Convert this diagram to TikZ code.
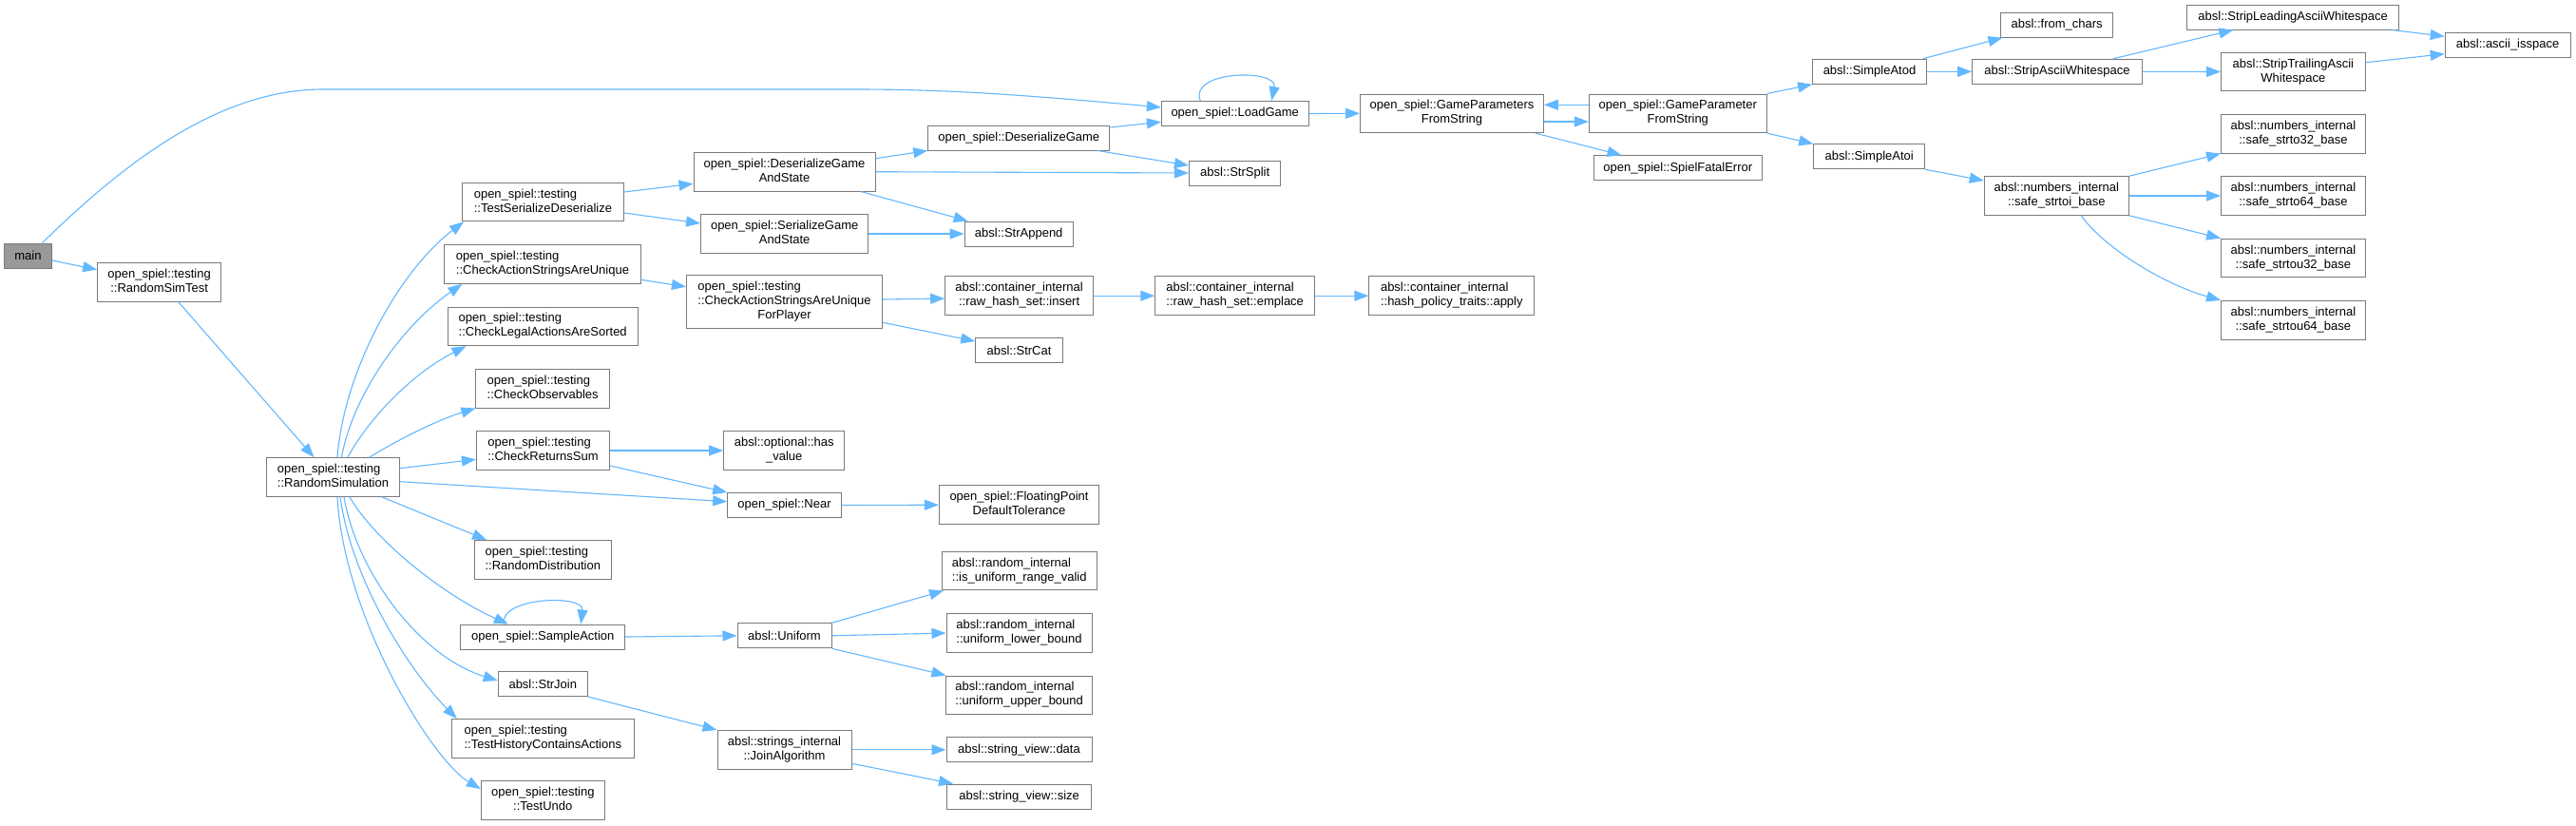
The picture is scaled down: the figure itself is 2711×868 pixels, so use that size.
\documentclass[tikz,border=0pt]{standalone}
\usepackage{fontspec}
\setmainfont{Liberation Sans}
\usetikzlibrary{arrows.meta}
\definecolor{edgec}{HTML}{63B8FF}
\definecolor{nodeb}{HTML}{7A7A7A}
\definecolor{mainf}{HTML}{999999}
\newcommand\lb[2]{\begin{tabular}{@{}l@{}}#1\\\multicolumn{1}{@{}c@{}}{#2}\end{tabular}}
\newcommand\lbt[3]{\begin{tabular}{@{}l@{}}#1\\#2\\\multicolumn{1}{@{}c@{}}{#3}\end{tabular}}
\tikzset{
  box/.style={draw=nodeb, fill=white, line width=1pt, inner sep=0pt, font=\fontsize{13pt}{15pt}\selectfont},
  one/.style={box, minimum height=26pt},
  two/.style={box, minimum height=40.6pt},
  three/.style={box, minimum height=55.7pt},
  mainbox/.style={one, fill=mainf},
  edge/.style={draw=edgec, line width=1.1pt, -{Triangle[length=15pt,width=11pt]}},
}
\begin{document}
\begin{tikzpicture}[x=1pt,y=-1pt]
\fill[white] (0,0) rectangle (2711,868);
\useasboundingbox (0,0) rectangle (2711,868);
% nodes
\node[mainbox, minimum width=50pt] (main) at (29.5,269) {main};
\node[two, minimum width=130pt] (rst) at (167.6,296.7) {\lb{open\_spiel::testing}{::RandomSimTest}};
\node[two, minimum width=139.3pt] (rs) at (350.5,502) {\lb{open\_spiel::testing}{::RandomSimulation}};
\node[two, minimum width=169.6pt] (tsd) at (571.4,212.5) {\lb{open\_spiel::testing}{::TestSerializeDeserialize}};
\node[two, minimum width=206.3pt] (casau) at (571,278) {\lb{open\_spiel::testing}{::CheckActionStringsAreUnique}};
\node[two, minimum width=200.4pt] (claas) at (571.2,343.3) {\lb{open\_spiel::testing}{::CheckLegalActionsAreSorted}};
\node[two, minimum width=140.6pt] (co) at (571.2,408.7) {\lb{open\_spiel::testing}{::CheckObservables}};
\node[two, minimum width=140.2pt] (crs) at (571.5,474) {\lb{open\_spiel::testing}{::CheckReturnsSum}};
\node[two, minimum width=144.2pt] (rd) at (571.3,588.8) {\lb{open\_spiel::testing}{::RandomDistribution}};
\node[one, minimum width=172.8pt] (sa) at (571.3,670) {open\_spiel::SampleAction};
\node[one, minimum width=94.2pt] (sj) at (571.3,719.5) {absl::StrJoin};
\node[two, minimum width=191.5pt] (thca) at (571.3,776.8) {\lb{open\_spiel::testing}{::TestHistoryContainsActions}};
\node[two, minimum width=129.9pt] (tu) at (571.3,842) {\lb{open\_spiel::testing}{::TestUndo}};
\node[two, minimum width=191pt] (dgas) at (825.5,180.7) {\lb{open\_spiel::DeserializeGame}{AndState}};
\node[two, minimum width=176.3pt] (sgas) at (825.7,246) {\lb{open\_spiel::SerializeGame}{AndState}};
\node[three, minimum width=206.2pt] (casaufp) at (825.5,317.8) {\lbt{open\_spiel::testing}{::CheckActionStringsAreUnique}{ForPlayer}};
\node[two, minimum width=127.2pt] (hasv) at (825.3,474) {\lb{absl::optional::has}{\_value}};
\node[one, minimum width=119.6pt] (near) at (825.5,531.5) {open\_spiel::Near};
\node[one, minimum width=99pt] (unif) at (825.5,668.8) {absl::Uniform};
\node[two, minimum width=141pt] (ja) at (825.5,788.8) {\lb{absl::strings\_internal}{::JoinAlgorithm}};
\node[one, minimum width=191.1pt] (dg) at (1072.3,145) {open\_spiel::DeserializeGame};
\node[one, minimum width=114pt] (sapp) at (1072.2,246) {absl::StrAppend};
\node[two, minimum width=155.8pt] (ins) at (1072.6,311.2) {\lb{absl::container\_internal}{::raw\_hash\_set::insert}};
\node[one, minimum width=91.4pt] (scat) at (1072.5,368.7) {absl::StrCat};
\node[two, minimum width=168.1pt] (fpdt) at (1072.5,531.2) {\lb{open\_spiel::FloatingPoint}{DefaultTolerance}};
\node[two, minimum width=162.4pt] (iurv) at (1072.8,600.6) {\lb{absl::random\_internal}{::is\_uniform\_range\_valid}};
\node[two, minimum width=153pt] (ulb) at (1072.5,666) {\lb{absl::random\_internal}{::uniform\_lower\_bound}};
\node[two, minimum width=153.5pt] (uub) at (1072.7,731.3) {\lb{absl::random\_internal}{::uniform\_upper\_bound}};
\node[one, minimum width=153pt] (svd) at (1072.5,788.8) {absl::string\_view::data};
\node[one, minimum width=151.5pt] (svs) at (1072.7,838) {absl::string\_view::size};
\node[one, minimum width=154.6pt] (lg) at (1299.7,119.5) {open\_spiel::LoadGame};
\node[one, minimum width=96.5pt] (ssp) at (1299.7,182) {absl::StrSplit};
\node[two, minimum width=192.9pt] (gpsfs) at (1528,119.3) {\lb{open\_spiel::GameParameters}{FromString}};
\node[two, minimum width=186.8pt] (gpfs) at (1765.8,119.3) {\lb{open\_spiel::GameParameter}{FromString}};
\node[one, minimum width=177.6pt] (sfe) at (1765.8,176.7) {open\_spiel::SpielFatalError};
\node[two, minimum width=167.9pt] (emp) at (1299.7,311.2) {\lb{absl::container\_internal}{::raw\_hash\_set::emplace}};
\node[two, minimum width=174pt] (app) at (1527.8,311.2) {\lb{absl::container\_internal}{::hash\_policy\_traits::apply}};
\node[one, minimum width=119.7pt] (atod) at (1967.5,75.3) {absl::SimpleAtod};
\node[one, minimum width=118.7pt] (fch) at (2164.6,26.2) {absl::from\_chars};
\node[one, minimum width=178.4pt] (saw) at (2164.9,75.3) {absl::StripAsciiWhitespace};
\node[one, minimum width=223.4pt] (slaw) at (2413.1,18) {absl::StripLeadingAsciiWhitespace};
\node[two, minimum width=151.6pt] (staw) at (2413.4,75.5) {\lb{absl::StripTrailingAscii}{Whitespace}};
\node[one, minimum width=131.8pt] (isp) at (2639.1,47.3) {absl::ascii\_isspace};
\node[one, minimum width=116.9pt] (atoi) at (1967.2,164.8) {absl::SimpleAtoi};
\node[two, minimum width=152.1pt] (stoi) at (2164.3,206) {\lb{absl::numbers\_internal}{::safe\_strtoi\_base}};
\node[two, minimum width=151.6pt] (s32) at (2413.4,140.8) {\lb{absl::numbers\_internal}{::safe\_strto32\_base}};
\node[two, minimum width=151.6pt] (s64) at (2413.4,206) {\lb{absl::numbers\_internal}{::safe\_strto64\_base}};
\node[two, minimum width=151.6pt] (su32) at (2413.4,271.5) {\lb{absl::numbers\_internal}{::safe\_strtou32\_base}};
\node[two, minimum width=151.6pt] (su64) at (2413.4,336.7) {\lb{absl::numbers\_internal}{::safe\_strtou64\_base}};
% edges
\draw[edge] ([xshift=15pt]main.north) .. controls (130,172) and (230,94) .. (340,94) -- (900,94) .. controls (1000,94) and (1080,100) .. ([yshift=6.5pt]lg.west);
\draw[edge] ([yshift=-5pt]main.east) -- ([yshift=13pt]rst.west);
\draw[edge] ([xshift=20pt]rst.south) -- ([xshift=-20pt]rs.north);
\draw[edge] ([xshift=4.5pt]rs.north) .. controls (362,390) and (420,285) .. ([xshift=2pt]tsd.south west);
\draw[edge] ([xshift=9pt]rs.north) .. controls (370,420) and (420,345) .. ([xshift=19pt]casau.south west);
\draw[edge] ([xshift=15.5pt]rs.north) .. controls (385,445) and (430,395) .. ([xshift=20pt]claas.south west);
\draw[edge] ([xshift=38pt]rs.north) .. controls (420,462) and (460,442) .. (co.south west);
\draw[edge] ([yshift=9.3pt]rs.east) -- ([yshift=-9.3pt]crs.west);
\draw[edge] ([yshift=-4.7pt]rs.east) -- ([yshift=3.8pt]near.west);
\draw[edge] ([xshift=51.3pt]rs.south) -- ([xshift=13.4pt]rd.north west);
\draw[edge] ([xshift=17.5pt]rs.south) .. controls (395,570) and (470,628) .. ([xshift=-36.4pt]sa.north);
\draw[edge] ([xshift=11.5pt]rs.south) .. controls (375,600) and (440,690) .. ([yshift=3.5pt]sj.west);
\draw[edge] ([xshift=7.5pt]rs.south) .. controls (370,610) and (430,705) .. ([xshift=5.8pt]thca.north west);
\draw[edge] ([xshift=4.5pt]rs.south) .. controls (362,650) and (455,800) .. ([yshift=12pt]tu.west);
\draw[edge] ([yshift=10.5pt]tsd.east) -- ([yshift=-12.6pt]dgas.west);
\draw[edge] ([yshift=-11.5pt]tsd.east) -- ([yshift=11pt]sgas.west);
\draw[edge] ([yshift=14pt]dgas.east) -- (dg.south west);
\draw[edge] (dgas.east) -- (ssp.west);
\draw[edge] ([xshift=-15.6pt]dgas.south east) -- ([xshift=4pt]sapp.north west);
\draw[edge] (sgas.east) -- (sapp.west);
\draw[edge] ([yshift=11pt]dg.east) -- ([yshift=-8.8pt]lg.west);
\draw[edge] ([xshift=-13.3pt]dg.south east) -- ([yshift=8pt]ssp.west);
\draw[edge] ([yshift=-16.3pt]casau.east) -- ([yshift=16.1pt]casaufp.west);
\draw[edge] ([yshift=2.8pt]casaufp.east) -- ([yshift=-2.8pt]ins.west);
\draw[edge] ([yshift=-21.5pt]casaufp.east) -- ([yshift=9.7pt]scat.west);
\draw[edge] (ins.east) -- (emp.west);
\draw[edge] (emp.east) -- (app.west);
\draw[edge] (crs.east) -- (hasv.west);
\draw[edge] ([yshift=-16pt]crs.east) -- (near.north west);
\draw[edge] (near.east) -- (fpdt.west);
\draw[edge] ([xshift=-41pt]sa.north) .. controls (525,628) and (615,625) .. ([xshift=40pt]sa.north);
\draw[edge] (sa.east) -- (unif.west);
\draw[edge] (unif.north east) -- ([xshift=2pt]iurv.south west);
\draw[edge] (unif.east) -- (ulb.west);
\draw[edge] (unif.south east) -- (uub.north west);
\draw[edge] (sj.south east) -- (ja.north west);
\draw[edge] (ja.east) -- (svd.west);
\draw[edge] ([yshift=-14.5pt]ja.east) -- ([xshift=6.6pt]svs.north west);
\draw[edge] ([xshift=-36.4pt]lg.north) .. controls (1250,74) and (1345,72) .. ([xshift=38.5pt]lg.north);
\draw[edge] (lg.east) -- (gpsfs.west);
\draw[edge] ([yshift=9pt]gpfs.west) -- ([yshift=9pt]gpsfs.east);
\draw[edge] ([yshift=-8.7pt]gpsfs.east) -- ([yshift=-8.7pt]gpfs.west);
\draw[edge] ([xshift=-9.2pt]gpsfs.south east) -- ([xshift=30pt]sfe.north west);
\draw[edge] (gpfs.north east) -- (atod.south west);
\draw[edge] (gpfs.south east) -- (atoi.north west);
\draw[edge] ([xshift=-4.4pt]atod.north east) -- ([xshift=2.7pt]fch.south west);
\draw[edge] (atod.east) -- (saw.west);
\draw[edge] ([xshift=-30.7pt]saw.north east) -- ([xshift=49.4pt]slaw.south west);
\draw[edge] (saw.east) -- (staw.west);
\draw[edge] ([xshift=-7.8pt]slaw.south east) -- ([yshift=9pt]isp.west);
\draw[edge] ([yshift=9.8pt]staw.east) -- ([yshift=-9.4pt]isp.west);
\draw[edge] (atoi.south east) -- ([yshift=16pt]stoi.west);
\draw[edge] (stoi.north east) -- (s32.south west);
\draw[edge] (stoi.east) -- (s64.west);
\draw[edge] (stoi.south east) -- (su32.north west);
\draw[edge] ([xshift=26pt]stoi.south) .. controls (2215,262) and (2280,300) .. (su64.north west);
\end{tikzpicture}
\end{document}
